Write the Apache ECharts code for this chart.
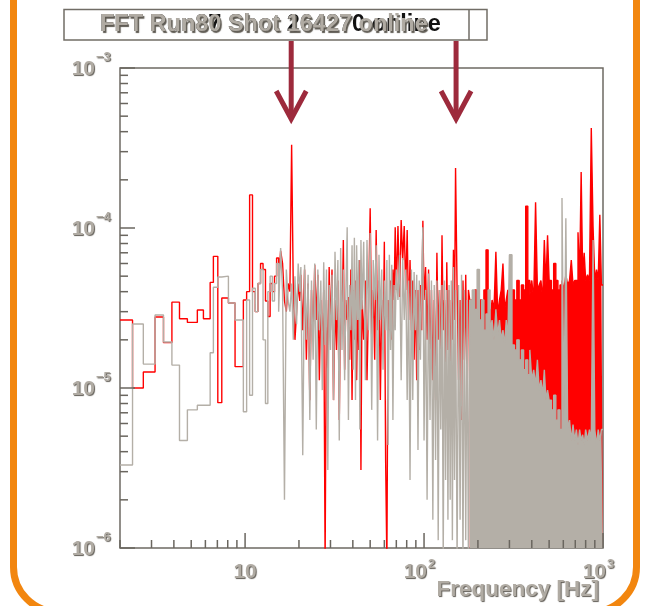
<!DOCTYPE html>
<html>
<head>
<meta charset="utf-8">
<script src="https://cdn.jsdelivr.net/npm/echarts@6/dist/echarts.min.js"></script>
<style>
  html, body { margin: 0; padding: 0; background: #fff; }
  #c { width: 653px; height: 606px; }
</style>
</head>
<body>
<div id="c"></div>
<script>
// FFT amplitude spectra of two shots, drawn as step histograms on log-log axes.
// Amplitudes are stored in units of 1e-6.

const AMP_UNIT = 1e-6;
const F_MIN = 2;
const F_MAX = 1000;
// above this frequency the bins are denser than the pixels, so the spectra are drawn filled
const FILLED_FROM_HZ = 180;

// lower bin edges [Hz]
const freqHz = [
  2.0, 2.35, 2.7, 3.14, 3.5, 3.9, 4.3, 4.76, 5.41, 5.85, 6.38, 6.65, 7.04, 7.41, 8.07, 8.79, 9.78, 10.2,
  10.6, 11.0, 11.4, 11.8, 12.2, 12.6, 13.0, 13.4, 13.8, 14.2, 14.6, 15.0, 15.4, 15.8, 16.2, 16.6, 17.0, 17.4, 17.8, 18.2, 18.6, 19.0, 19.4, 19.8, 20.2,
  20.5, 21.0, 21.5, 22.0, 22.5, 23.0, 23.5, 24.0, 24.5, 25.0, 25.5, 26.0, 26.5, 27.0, 27.5, 28.0, 28.5, 29.0, 29.5, 30.0,
  30.6, 31.2, 31.8, 32.4, 33.0, 33.6, 34.2, 34.8, 35.4, 36.0, 36.6, 37.2, 37.8, 38.4, 39.0, 39.6, 40.2, 40.8, 41.4, 42.0, 42.6, 43.2, 43.8, 44.4, 45.0,
  46, 47, 48, 49, 50, 51, 52, 53, 54, 55, 56, 57, 58, 59, 60, 61, 62, 63, 64, 65, 66, 67, 68, 69, 70,
  71.5, 73, 74.5, 76, 77.5, 79, 80.5, 82, 83.5, 85, 86.5, 88, 89.5, 91, 92.5, 94, 95.5, 97, 98.5, 100,
  102, 104, 106, 108, 110, 112, 114, 116, 118, 120, 122, 124, 126, 128, 130, 132, 134, 136, 138, 140, 142, 144, 146, 148, 150,
  153, 156, 159, 162, 165, 168, 171, 174, 177,
  180,
  186, 192, 198, 204, 210, 216, 222, 228, 234, 240, 246, 252, 258, 264, 270, 276, 282, 288, 294, 300,
  310, 320, 330, 340, 350, 360, 370, 380, 390, 400, 410, 420, 430, 440, 450, 460, 470, 480, 490, 500,
  515, 530, 545, 560, 575, 590, 605, 620, 635, 650, 665, 680, 695, 710, 725, 740, 755, 770, 785, 800,
  820, 840, 860, 880, 900, 920, 940, 960, 980
];

// shot drawn in red
const redAmp = [
  26.6, 10, 12.6, 27.8, 19.2, 34.4, 27.1, 25.7, 30.7, 27.1, 45.7, 66.5, 8.1, 36.5, 34, 13.6, 35.5, 40,
  161, 40, 30, 45, 60, 55, 35, 28, 45, 40, 50, 65, 48, 72, 60, 35, 30, 45, 40, 331, 40, 20, 30, 45, 35,
  51, 23, 55, 15, 45, 8.4, 41, 20, 59, 26.6, 51, 11.2, 35.5, 17.3, 41, 0.8, 35.5, 11.2, 57, 23,
  55, 8.4, 35.5, 17.3, 47, 6.3, 41, 23, 84, 13, 35.5, 26.6, 37, 15, 55, 8.4, 41, 20, 47, 11.2, 35.5, 17.3, 63, 3.07, 35.5,
  20, 47, 11.2, 35.5, 133, 20, 41, 15, 97, 23, 47, 8.4, 35.5, 17.3, 82, 3.55, 0.8, 35.5, 23, 47, 20, 55, 35.5, 101, 41,
  103, 37, 112, 63, 103, 41, 97, 26.6, 63, 23, 47, 15, 41, 11.2, 41, 17.3, 44, 23, 111, 35.5,
  57, 20, 55, 15, 41, 11.2, 35.5, 8.4, 70, 20, 41, 11.2, 90, 23, 35.5, 8.4, 61, 17.3, 41, 11.2, 35.5, 20, 73, 26.6, 237,
  41, 11.2, 35.5, 6.3, 47, 15, 51, 8.4, 41,
  35.5,
  26.6, 41, 31, 35.5, 26.6, 41, 73, 31, 26.6, 35.5, 31, 71, 29, 35.5, 41, 60, 31, 35.5, 41, 35.5,
  41, 35.5, 47, 35.5, 44, 41, 137, 47, 38, 47, 35.5, 145, 41, 44, 47, 35.5, 84, 44, 90, 47,
  41, 60, 47, 41, 44, 47, 41, 51, 44, 47, 63, 44, 47, 47, 94, 47, 224, 51, 70, 47,
  51, 47, 422, 101, 47, 55, 47, 121, 44
];

// shot drawn in grey
const grayAmp = [
  3.3, 25.1, 14.1, 28.6, 19.4, 13.9, 4.7, 7.3, 7.8, 7.8, 16.6, 42.6, 49.4, 50, 34, 26.6, 7.1, 35.5,
  9, 42, 30, 45, 55, 20, 8, 40, 50, 35, 45, 60, 30, 75, 40, 2.0, 55, 35, 30, 45, 20, 50, 25, 60, 40,
  57, 3.8, 59, 20, 51, 6.3, 47, 15, 60, 5.5, 55, 23, 47, 9.7, 61, 18.6, 55, 3.07, 44, 17.3,
  51, 8.4, 71, 26.6, 63, 4.7, 75, 17.3, 55, 11.2, 41, 101, 6.3, 44, 23, 78, 13, 87, 8.4, 78, 26.6, 63, 5.5, 84, 31,
  82, 11.2, 84, 23, 93, 7.3, 63, 35.5, 78, 4.7, 68, 26.6, 55, 13, 47, 23, 63, 4.4, 68, 17.3, 59, 6.3, 44, 23, 55,
  35.5, 68, 11.2, 65, 26.6, 55, 8.4, 47, 2.66, 55, 8.4, 53, 23, 51, 4.1, 47, 15, 51, 101, 4.7,
  41, 2.0, 52, 6.3, 47, 1.5, 44, 3.55, 47, 1.12, 41, 5.5, 44, 0.8, 47, 2.66, 41, 1.5, 44, 2.0, 47, 1.12, 57, 2.66, 41,
  0.8, 44, 1.5, 51, 0.8, 41, 1.12, 35.5, 0.8,
  35.5,
  41, 31, 55, 26.6, 35.5, 23, 29, 41, 23, 26.6, 20, 31, 21.4, 26.6, 20, 23, 18.6, 26.6, 20, 68,
  18.6, 17.3, 20, 15, 17.3, 13, 15, 12.1, 17.3, 11.2, 13, 10.4, 15, 9.7, 11.2, 9.0, 13, 8.4, 9.7, 8.4,
  7.3, 9.0, 6.3, 7.3, 5.5, 154, 6.3, 115, 5.5, 6.3, 4.7, 5.9, 4.7, 5.5, 4.4, 5.5, 4.7, 5.1, 4.4, 5.5,
  4.7, 5.5, 4.7, 84, 5.5, 4.4, 5.5, 4.7, 5.5
];

// lines marked with arrows [Hz]
const markedLines = [18.1, 151];

// axis decades
const xDecadeExps = [1, 2, 3];
const yDecadeExps = [-6, -5, -4, -3];

const titleGray = 'FFT Run80 Shot 16427 online';
const titleBlack = 'FFT Run87 Shot 264270 online';
const xTitle = 'Frequency [Hz]';

function histPoints(amp) {
  const pts = freqHz.map((f, i) => [f, amp[i] * AMP_UNIT]);
  pts.push([F_MAX, amp[amp.length - 1] * AMP_UNIT]);
  return pts;
}
const redPts = histPoints(redAmp);
const grayPts = histPoints(grayAmp);
const lowPart = pts => pts.filter(p => p[0] <= FILLED_FROM_HZ);
const highPart = pts => pts.filter(p => p[0] >= FILLED_FROM_HZ);

const RED = '#ff0000';
const GREY = '#b4afa7';

const GL = 120, GT = 68, GW = 483, GH = 480;
const chart = echarts.init(document.getElementById('c'), null, { renderer: 'canvas' });

const hiddenAxis = {
  axisLine: { show: false }, axisTick: { show: false },
  axisLabel: { show: false }, splitLine: { show: false }
};

function hist(data, color, z, filled) {
  const s = {
    type: 'line', step: 'end', symbol: 'none', z: z, clip: true,
    data: data, lineStyle: { color: color, width: 1.4 }
  };
  if (filled) s.areaStyle = { color: color, opacity: 1 };
  return s;
}

chart.setOption({
  animation: false,
  backgroundColor: '#ffffff',
  grid: {
    left: GL, top: GT, width: GW, height: GH, show: true,
    borderColor: '#6e6a63', borderWidth: 1.5, backgroundColor: 'rgba(0,0,0,0)'
  },
  xAxis: Object.assign({ type: 'log', logBase: 10, min: F_MIN, max: F_MAX }, hiddenAxis),
  yAxis: Object.assign({ type: 'log', logBase: 10, min: 1e-6, max: 1e-3 }, hiddenAxis),
  series: [
    hist(lowPart(redPts), RED, 2, false),
    hist(highPart(redPts), RED, 2, true),
    hist(lowPart(grayPts), GREY, 3, false),
    hist(highPart(grayPts), GREY, 3, true)
  ]
});

const px = v => chart.convertToPixel({ xAxisIndex: 0 }, v);
const py = v => chart.convertToPixel({ yAxisIndex: 0 }, v);

const LABEL_FILL = '#b0aba3';
const SHADOW = { textShadowColor: '#625e57', textShadowOffsetX: 1, textShadowOffsetY: 1, textShadowBlur: 1 };
const FONT_BASE = 'bold 21px "Liberation Sans", Arial, sans-serif';
const FONT_TITLE_X = 'bold 22.5px "Liberation Sans", Arial, sans-serif';
const FONT_SUP = 'bold 13px "Liberation Sans", Arial, sans-serif';
const TICK_COLOR = '#6a665f';

function text(x, y, str, font, align, fill, extra) {
  return {
    type: 'text', z: 50,
    style: Object.assign({
      x: x, y: y, text: str, font: font, fill: fill,
      align: align, verticalAlign: 'middle',
      textAlign: align, textVerticalAlign: 'middle'
    }, extra || {})
  };
}

const g = [];

// orange frame of the panel
g.push({
  type: 'rect', z: 10,
  shape: { x: 13.5, y: -80, width: 623, height: 692, r: 45 },
  style: { fill: 'none', stroke: '#f2860f', lineWidth: 7 }
});

// title box
g.push({
  type: 'rect', z: 20,
  shape: { x: 64, y: 9.5, width: 423, height: 30.5 },
  style: { fill: '#ffffff', stroke: '#716d66', lineWidth: 1.5 }
});
g.push({
  type: 'line', z: 21,
  shape: { x1: 469, y1: 9.5, x2: 469, y2: 40 },
  style: { stroke: '#716d66', lineWidth: 1.5 }
});
g.push(text(100, 25, titleBlack, 'bold 23.5px "Liberation Sans", Arial, sans-serif', 'left', '#111111'));
g.push(text(100, 25, titleGray, 'bold 23.5px "Liberation Sans", Arial, sans-serif', 'left', LABEL_FILL,
  { textShadowColor: '#5d5951', textShadowOffsetX: 1.5, textShadowOffsetY: 1.5, textShadowBlur: 1 }));

// y axis ticks (log, inside the frame)
for (let e = -6; e <= -3; e++) {
  for (let m = 1; m <= 9; m++) {
    const v = m * Math.pow(10, e);
    if (v > 1e-3 * 1.0001) break;
    const y = py(v);
    const len = m === 1 ? 15 : 8;
    g.push({ type: 'line', z: 40, shape: { x1: GL, y1: y, x2: GL + len, y2: y },
      style: { stroke: TICK_COLOR, lineWidth: 1.5 } });
  }
}
// x axis ticks
for (let e = 0; e <= 3; e++) {
  for (let m = 1; m <= 9; m++) {
    const v = m * Math.pow(10, e);
    if (v < F_MIN * 0.999 || v > F_MAX * 1.0001) continue;
    const x = px(v);
    const len = m === 1 ? 15 : 8;
    g.push({ type: 'line', z: 40, shape: { x1: x, y1: GT + GH, x2: x, y2: GT + GH - len },
      style: { stroke: TICK_COLOR, lineWidth: 1.5 } });
  }
}

// y tick labels 10^e
yDecadeExps.forEach(e => {
  const y = py(Math.pow(10, e));
  g.push(text(95, y + 1, '10', FONT_BASE, 'right', LABEL_FILL, SHADOW));
  g.push(text(96, y - 11, '\u2212' + Math.abs(e), FONT_SUP, 'left', LABEL_FILL, SHADOW));
});

// x tick labels
xDecadeExps.forEach(e => {
  const x = px(Math.pow(10, e));
  if (e === 1) {
    g.push(text(x, 572, '10', FONT_BASE, 'center', LABEL_FILL, SHADOW));
  } else {
    g.push(text(x + 3, 572, '10', FONT_BASE, 'right', LABEL_FILL, SHADOW));
    g.push(text(x + 4, 564, String(e), FONT_SUP, 'left', LABEL_FILL, SHADOW));
  }
});

// x axis title
g.push(text(GL + GW - 4, 590, xTitle, FONT_TITLE_X, 'right', LABEL_FILL, SHADOW));

// arrows marking the lines
const ARROW = '#9d2a3c';
markedLines.forEach(f => {
  const x = px(f);
  g.push({ type: 'line', z: 60, shape: { x1: x, y1: 41, x2: x, y2: 116 },
    style: { stroke: ARROW, lineWidth: 5 } });
  g.push({ type: 'polyline', z: 60, shape: { points: [[x - 15, 91], [x, 119], [x + 15, 91]] },
    style: { stroke: ARROW, lineWidth: 5, fill: null, lineJoin: 'miter' } });
});

chart.setOption({ graphic: { elements: g } });
</script>
</body>
</html>
